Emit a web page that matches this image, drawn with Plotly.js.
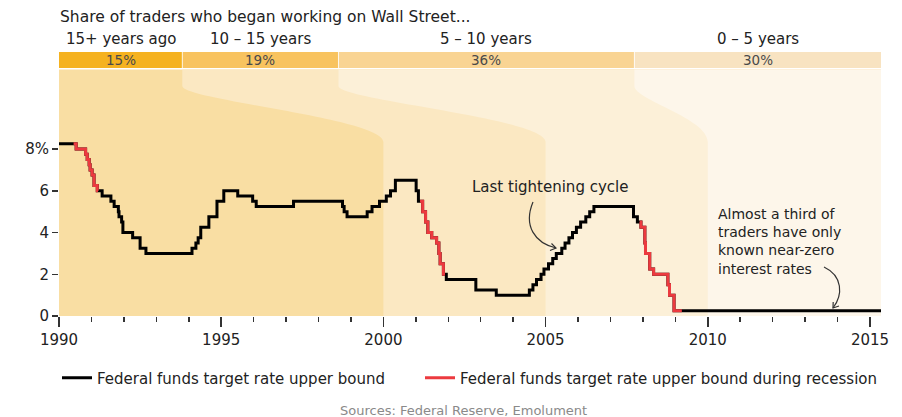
<!DOCTYPE html>
<html>
<head>
<meta charset="utf-8">
<script src="https://cdn.plot.ly/plotly-3.0.1.min.js"></script>
<style>html,body{margin:0;padding:0;background:#fff;}</style>
</head>
<body>
<div id="chart" style="width:902px;height:417px;"></div>
<script>
// ---------------- DATA ----------------
// Federal funds target rate upper bound (decimal year, %)
const rateDates = [
  1990.00, 1990.53, 1990.82, 1990.87, 1990.93, 1990.96,
  1991.02, 1991.08, 1991.18, 1991.33, 1991.60, 1991.70, 1991.83, 1991.85, 1991.93, 1991.97,
  1992.27, 1992.50, 1992.68,
  1994.10, 1994.22, 1994.29, 1994.37, 1994.62, 1994.87,
  1995.08, 1995.51, 1995.97, 1996.08, 1997.23,
  1998.74, 1998.79, 1998.88, 1999.50, 1999.65, 1999.88,
  2000.09, 2000.22, 2000.37,
  2001.01, 2001.08, 2001.21, 2001.30, 2001.37, 2001.49, 2001.64, 2001.71, 2001.75, 2001.85, 2001.94,
  2002.85, 2003.48,
  2004.50, 2004.61, 2004.72, 2004.86, 2004.95,
  2005.09, 2005.22, 2005.33, 2005.50, 2005.60, 2005.72, 2005.83, 2005.95,
  2006.08, 2006.24, 2006.36, 2006.49,
  2007.71, 2007.83, 2007.94,
  2008.06, 2008.08, 2008.21, 2008.33, 2008.77, 2008.82, 2008.96,
  2015.34
];
const rateValues = [
  8.25, 8.00, 7.75, 7.50, 7.25, 7.00,
  6.75, 6.25, 6.00, 5.75, 5.50, 5.25, 5.00, 4.75, 4.50, 4.00,
  3.75, 3.25, 3.00,
  3.25, 3.50, 3.75, 4.25, 4.75, 5.50,
  6.00, 5.75, 5.50, 5.25, 5.50,
  5.25, 5.00, 4.75, 5.00, 5.25, 5.50,
  5.75, 6.00, 6.50,
  6.00, 5.50, 5.00, 4.50, 4.00, 3.75, 3.50, 3.00, 2.50, 2.00, 1.75,
  1.25, 1.00,
  1.25, 1.50, 1.75, 2.00, 2.25,
  2.50, 2.75, 3.00, 3.25, 3.50, 3.75, 4.00, 4.25,
  4.50, 4.75, 5.00, 5.25,
  4.75, 4.50, 4.25,
  3.50, 3.00, 2.25, 2.00, 1.50, 1.00, 0.25,
  0.25
];
// Recession periods (decimal years)
const recessionStarts = [1990.45, 2001.13, 2007.90];
const recessionEnds   = [1991.20, 2001.90, 2009.20];

// Share of traders by when they began working on Wall Street
const cohortLabels = ['15+ years ago', '10 – 15 years', '5 – 10 years', '0 – 5 years'];
const cohortShares = [15, 19, 36, 30];
const cohortStartYears = [2000, 2005, 2010];   // where each later cohort's band reaches the axis

const xTickYears = [1990, 1995, 2000, 2005, 2010, 2015];
const yTickVals = [0, 2, 4, 6, 8];
const yTickText = ['0', '2', '4', '6', '8%'];

const seriesNames = ['Federal funds target rate upper bound',
                     'Federal funds target rate upper bound during recession'];
const titleText = 'Share of traders who began working on Wall Street...';
const noteTightening = 'Last tightening cycle';
const noteZeroLines = ['Almost a third of', 'traders have only', 'known near-zero', 'interest rates'];
const sourceText = 'Sources: Federal Reserve, Emolument';

// ---------------- GEOMETRY / STYLE ----------------
const W = 902, H = 417, ML = 59, MR = 21, MT = 52, MB = 101;
const X0 = 1990, X1 = 2015.34;
const Y0 = 0, Y1 = (H - MB - MT) / 20.875;
const px2x = px => X0 + (px - ML) / (W - ML - MR) * (X1 - X0);
const py2y = py => Y0 + (H - MB - py) / (H - MT - MB) * (Y1 - Y0);
const py2paper = py => (H - MB - py) / (H - MT - MB);
const px2paper = px => (px - ML) / (W - ML - MR);

const FONT = 'DejaVu Sans';
const barColors  = ['#F5B220', '#F8C35F', '#F9D493', '#F8E3C1'];
const zoneColors = ['#F9DEA3', '#FBE8C2', '#FCF0D8', '#FDF6EA'];

// ---------------- TRACES ----------------
function rateAt(t) {
  let v = rateValues[0];
  for (let i = 0; i < rateDates.length; i++) { if (rateDates[i] <= t) v = rateValues[i]; else break; }
  return v;
}
const redX = [], redY = [];
recessionStarts.forEach((s, k) => {
  const e = recessionEnds[k];
  redX.push(s); redY.push(rateAt(s));
  rateDates.forEach((d, i) => { if (d > s && d <= e) { redX.push(d); redY.push(rateValues[i]); } });
  redX.push(e); redY.push(rateAt(e));
  redX.push(null); redY.push(null);
});

const traces = [
  { x: rateDates, y: rateValues, type: 'scatter', mode: 'lines', name: seriesNames[0],
    line: { color: '#000000', width: 3, shape: 'hv' }, hoverinfo: 'skip', legend: 'legend' },
  { x: redX, y: redY, type: 'scatter', mode: 'lines', name: seriesNames[1],
    line: { color: '#EC3A3F', width: 3, shape: 'hv' }, connectgaps: false, hoverinfo: 'skip', legend: 'legend2' }
];

// ---------------- SHAPES ----------------
const cum = [0];
cohortShares.forEach(s => cum.push(cum[cum.length - 1] + s));
const total = cum[cum.length - 1];
const xTop = cum.map(c => X0 + c / total * (X1 - X0));

const yBarTop = Y1, yBarBot = py2y(68), yFillTop = py2y(69.5);
const yC0 = py2y(86), yC1 = py2y(100), yC2 = py2y(118), yC3 = py2y(142);

const shapes = [];
// zone 1 (whole plot)
shapes.push({ type: 'rect', xref: 'x', yref: 'y', x0: X0, x1: X1, y0: 0, y1: yFillTop,
  fillcolor: zoneColors[0], line: { width: 0 }, layer: 'below' });
// later zones, each with a curved left edge
for (let j = 1; j < cohortShares.length; j++) {
  const xt = xTop[j], xb = cohortStartYears[j - 1];
  const path = `M ${xt},${yFillTop} L ${xt},${yC0} C ${xt},${yC1} ${xb},${yC2} ${xb},${yC3} ` +
               `L ${xb},0 L ${X1},0 L ${X1},${yFillTop} Z`;
  shapes.push({ type: 'path', xref: 'x', yref: 'y', path: path,
    fillcolor: zoneColors[j], line: { width: 0 }, layer: 'below' });
}
// header bars
for (let j = 0; j < cohortShares.length; j++) {
  shapes.push({ type: 'rect', xref: 'x', yref: 'y', x0: xTop[j], x1: xTop[j + 1], y0: yBarBot, y1: yBarTop,
    fillcolor: barColors[j], line: { width: 0 }, layer: 'below' });
}
for (let j = 1; j < cohortShares.length; j++) {
  shapes.push({ type: 'line', xref: 'x', yref: 'y', x0: xTop[j], x1: xTop[j], y0: yBarBot, y1: yBarTop,
    line: { color: 'rgba(255,255,255,0.8)', width: 1 }, layer: 'below' });
}
// curved annotation arrows
function pt(px, py) { return `${px2x(px)},${py2y(py)}`; }
const arrowStyle = { color: '#333333', width: 1.2 };
shapes.push({ type: 'path', xref: 'x', yref: 'y', line: arrowStyle, fillcolor: 'rgba(0,0,0,0)',
  path: `M ${pt(533, 202)} C ${pt(523, 226)} ${pt(535, 243)} ${pt(556, 248)}` });
shapes.push({ type: 'path', xref: 'x', yref: 'y', line: arrowStyle, fillcolor: 'rgba(0,0,0,0)',
  path: `M ${pt(551.5, 243.5)} L ${pt(556, 248)} L ${pt(550, 250.5)}` });
shapes.push({ type: 'path', xref: 'x', yref: 'y', line: arrowStyle, fillcolor: 'rgba(0,0,0,0)',
  path: `M ${pt(824, 267)} C ${pt(843, 276)} ${pt(843, 295)} ${pt(833, 308)}` });
shapes.push({ type: 'path', xref: 'x', yref: 'y', line: arrowStyle, fillcolor: 'rgba(0,0,0,0)',
  path: `M ${pt(839, 306)} L ${pt(833, 308)} L ${pt(833.2, 302)}` });

// ---------------- ANNOTATIONS ----------------
const annotations = [];
for (let j = 0; j < cohortShares.length; j++) {
  const xm = (xTop[j] + xTop[j + 1]) / 2;
  annotations.push({ xref: 'x', yref: 'paper', x: xm, y: py2paper(39), text: cohortLabels[j],
    showarrow: false, xanchor: 'center', yanchor: 'middle', font: { family: FONT, size: 15, color: '#222' } });
  annotations.push({ xref: 'x', yref: 'y', x: xm, y: py2y(60), text: cohortShares[j] + '%',
    showarrow: false, xanchor: 'center', yanchor: 'middle', font: { family: FONT, size: 13.5, color: '#4a4a4a' } });
}
annotations.push({ xref: 'x', yref: 'y', x: px2x(470), y: py2y(187), text: noteTightening,
  showarrow: false, xanchor: 'left', yanchor: 'middle', font: { family: FONT, size: 15, color: '#222' } });
annotations.push({ xref: 'x', yref: 'y', x: px2x(716), y: py2y(241), text: noteZeroLines.join('<br>'),
  showarrow: false, xanchor: 'left', yanchor: 'middle', align: 'left',
  font: { family: FONT, size: 14, color: '#222' } });
annotations.push({ xref: 'paper', yref: 'paper', x: px2paper(463), y: py2paper(410), text: sourceText,
  showarrow: false, xanchor: 'center', yanchor: 'middle', font: { family: FONT, size: 13, color: '#8a8a8a' } });

// ---------------- LAYOUT ----------------
const legendFont = { family: FONT, size: 15, color: '#222' };
const layout = {
  width: W, height: H,
  margin: { l: ML, r: MR, t: MT, b: MB, pad: 0 },
  paper_bgcolor: '#ffffff', plot_bgcolor: '#ffffff',
  font: { family: FONT, size: 15, color: '#222' },
  title: { text: titleText, x: 60 / W, xanchor: 'left', xref: 'container',
           y: 1 - 17 / H, yanchor: 'middle', yref: 'container',
           font: { family: FONT, size: 15.5, color: '#222' } },
  xaxis: { range: [X0, X1], tickmode: 'array', tickvals: xTickYears, ticktext: xTickYears.map(String),
           ticks: 'outside', ticklen: 10, tickwidth: 1.5, tickcolor: '#333',
           showgrid: false, zeroline: false, showline: false,
           tickfont: { family: FONT, size: 15, color: '#222' },
           minor: { dtick: 1, tick0: X0, ticks: 'outside', ticklen: 5, tickwidth: 1.5, tickcolor: '#333', showgrid: false },
           fixedrange: true },
  yaxis: { range: [Y0, Y1], tickmode: 'array', tickvals: yTickVals, ticktext: yTickText,
           ticks: 'outside', ticklen: 6, tickwidth: 1.5, tickcolor: '#333',
           showgrid: false, zeroline: false, showline: false,
           tickfont: { family: FONT, size: 15, color: '#222' }, fixedrange: true },
  showlegend: true,
  legend:  { orientation: 'h', x: px2paper(57), xanchor: 'left', y: py2paper(378), yanchor: 'middle',
             font: legendFont, bgcolor: 'rgba(0,0,0,0)' },
  legend2: { orientation: 'h', x: px2paper(420), xanchor: 'left', y: py2paper(378), yanchor: 'middle',
             font: legendFont, bgcolor: 'rgba(0,0,0,0)' },
  shapes: shapes,
  annotations: annotations
};

Plotly.newPlot('chart', traces, layout, { displayModeBar: false, staticPlot: true });
</script>
</body>
</html>
